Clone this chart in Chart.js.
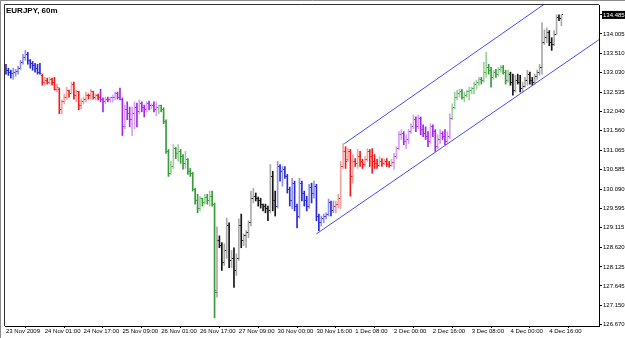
<!DOCTYPE html>
<html lang="en">
<head>
<meta charset="UTF-8">
<title>EURJPY, 60m</title>
<script src="https://cdn.jsdelivr.net/npm/chart.js"></script>
<style>
  html, body { margin: 0; padding: 0; background: #fff; }
  canvas { display: block; }
</style>
</head>
<body>
<canvas id="grafica" width="625" height="338"></canvas>
<script>
const chartTitle = 'EURJPY, 60m';

// one time label every 16 bars
const timeLabels = ['23 Nov 2009', '24 Nov 01:00', '24 Nov 17:00', '25 Nov 09:00', '26 Nov 01:00',
  '26 Nov 17:00', '27 Nov 09:00', '30 Nov 00:00', '30 Nov 16:00', '1 Dec 08:00', '2 Dec 00:00',
  '2 Dec 16:00', '3 Dec 08:00', '4 Dec 00:00', '4 Dec 16:00'];
const barsPerLabel = 16;

const priceTicks = [134.005, 133.510, 133.030, 132.535, 132.040, 131.560, 131.065, 130.585,
  130.090, 129.595, 129.115, 128.620, 128.125, 127.645, 127.150, 126.670];
const lastPrice = 134.485;

// colour of each trading day (first bar index of the day)
const dayStarts = [0, 15, 39, 63, 87, 112, 136, 160, 184, 208];
const dayColours = ['blue', 'red', 'purple', 'green', 'black', 'blue', 'red', 'purple', 'green', 'black'];

const opens = [
  133.14, 133.09, 133.04, 133.01, 133.04, 133.06, 133.14, 133.29, 133.41, 133.49,
  133.34, 133.26, 133.21, 133.14, 133.04, 132.96, 132.79, 132.84, 132.79, 132.86,
  132.79, 132.61, 132.61, 132.09, 132.29, 132.41, 132.59, 132.49, 132.74, 132.44,
  132.54, 132.19, 132.31, 132.36, 132.46, 132.44, 132.54, 132.41, 132.46, 132.39,
  132.36, 132.29, 132.36, 132.34, 132.39, 132.41, 132.49, 132.41, 132.36, 131.66,
  132.09, 131.99, 131.84, 131.99, 132.14, 132.04, 132.24, 132.14, 132.09, 132.24,
  132.19, 132.21, 132.09, 132.14, 132.19, 132.09, 131.79, 131.04, 130.49, 130.66,
  131.11, 130.99, 131.04, 130.91, 130.74, 130.84, 130.54, 130.49, 130.09, 129.79,
  129.59, 129.84, 129.74, 129.89, 129.79, 129.91, 129.71, 127.49, 128.79, 128.66,
  128.24, 128.54, 129.16, 128.29, 128.34, 128.04, 128.34, 129.16, 128.79, 128.91,
  128.99, 129.24, 129.84, 129.91, 129.86, 129.79, 129.69, 129.64, 129.59, 129.54,
  130.41, 129.79, 129.66, 130.66, 130.54, 130.59, 130.41, 130.09, 129.79, 130.24,
  129.66, 129.41, 130.24, 129.99, 129.79, 129.66, 130.14, 129.99, 130.16, 129.41,
  129.24, 129.34, 129.39, 129.44, 129.74, 129.54, 129.66, 129.71, 129.86, 130.66,
  131.04, 130.84, 131.04, 130.41, 130.79, 130.74, 130.91, 130.79, 130.71, 130.84,
  131.04, 130.91, 130.79, 130.74, 130.69, 130.79, 130.74, 130.79, 130.71, 130.69,
  130.76, 130.91, 131.11, 131.46, 131.49, 131.29, 131.34, 131.54, 131.66, 131.84,
  131.66, 131.86, 131.59, 131.49, 131.41, 131.29, 131.66, 131.54, 131.16, 131.34,
  131.49, 131.41, 131.29, 131.41, 131.86, 132.16, 132.41, 132.49, 132.54, 132.41,
  132.46, 132.54, 132.59, 132.64, 132.74, 132.79, 132.86, 132.84, 133.04, 133.16,
  133.09, 132.91, 133.04, 132.99, 133.11, 133.16, 133.04, 132.84, 132.99, 132.79,
  132.59, 132.84, 132.79, 132.64, 132.69, 132.84, 132.99, 132.84, 132.79, 132.94,
  133.04, 133.16, 133.79, 133.91, 134.04, 133.79, 133.74, 133.99, 134.41, 134.39
];
const highs = [
  133.24, 133.14, 133.09, 133.14, 133.11, 133.19, 133.34, 133.49, 133.59, 133.54,
  133.36, 133.31, 133.26, 133.24, 133.26, 132.99, 132.91, 132.89, 132.91, 132.89,
  132.91, 132.74, 132.64, 132.34, 132.49, 132.66, 132.59, 132.79, 132.79, 132.59,
  132.56, 132.36, 132.41, 132.54, 132.49, 132.61, 132.56, 132.49, 132.49, 132.61,
  132.39, 132.41, 132.41, 132.41, 132.46, 132.54, 132.54, 132.64, 132.39, 132.21,
  132.29, 132.16, 132.16, 132.29, 132.26, 132.34, 132.29, 132.21, 132.29, 132.31,
  132.24, 132.29, 132.29, 132.21, 132.21, 132.14, 131.84, 131.09, 130.79, 131.21,
  131.14, 131.21, 131.09, 130.96, 131.04, 130.86, 130.61, 130.51, 130.11, 129.96,
  129.91, 129.86, 129.96, 129.96, 130.04, 130.04, 129.74, 129.14, 128.91, 128.74,
  128.71, 129.36, 129.24, 128.54, 128.61, 128.46, 129.34, 129.46, 128.96, 129.04,
  129.29, 130.04, 130.11, 129.99, 129.89, 129.86, 129.71, 129.71, 129.66, 130.71,
  130.54, 130.04, 130.79, 130.71, 130.66, 130.66, 130.46, 130.14, 130.36, 130.29,
  129.71, 130.36, 130.29, 130.04, 129.91, 130.21, 130.24, 130.29, 130.21, 129.46,
  129.41, 129.46, 129.49, 129.84, 129.79, 129.79, 129.79, 129.96, 130.79, 131.24,
  131.16, 131.11, 131.09, 130.96, 130.86, 131.09, 131.04, 130.84, 130.91, 131.11,
  131.09, 131.11, 130.96, 130.84, 130.91, 130.86, 130.84, 130.86, 130.79, 130.84,
  130.99, 131.16, 131.54, 131.59, 131.54, 131.46, 131.59, 131.74, 131.96, 131.91,
  131.96, 131.91, 131.71, 131.66, 131.54, 131.74, 131.71, 131.59, 131.46, 131.59,
  131.54, 131.59, 131.54, 131.99, 132.24, 132.54, 132.59, 132.61, 132.61, 132.54,
  132.59, 132.66, 132.66, 132.79, 132.84, 132.91, 132.91, 133.29, 133.54, 133.24,
  133.16, 133.09, 133.11, 133.16, 133.21, 133.21, 133.09, 133.09, 133.04, 132.99,
  132.96, 132.99, 132.96, 132.79, 132.91, 133.09, 133.04, 132.91, 132.99, 133.09,
  133.24, 134.29, 134.11, 134.16, 134.09, 133.91, 134.09, 134.49, 134.49, 134.49
];
const lows = [
  132.99, 132.96, 132.89, 132.86, 132.94, 132.99, 133.11, 133.24, 133.34, 133.24,
  133.14, 133.09, 133.04, 132.99, 132.99, 132.71, 132.71, 132.74, 132.74, 132.71,
  132.59, 132.54, 131.99, 131.99, 132.24, 132.36, 132.41, 132.49, 132.36, 132.29,
  132.09, 132.11, 132.24, 132.29, 132.36, 132.36, 132.36, 132.34, 132.34, 132.29,
  132.04, 132.24, 132.29, 132.29, 132.29, 132.34, 132.36, 132.34, 131.44, 131.61,
  131.84, 131.66, 131.44, 131.61, 131.66, 131.99, 132.04, 131.91, 132.04, 132.09,
  132.11, 132.04, 131.94, 131.99, 132.04, 131.74, 130.99, 130.41, 130.46, 130.61,
  130.86, 130.79, 130.74, 130.59, 130.61, 130.46, 130.41, 130.04, 129.71, 129.49,
  129.54, 129.66, 129.71, 129.71, 129.66, 129.66, 126.84, 127.36, 128.61, 128.04,
  128.16, 128.34, 128.11, 128.11, 127.61, 127.91, 128.29, 128.61, 128.66, 128.61,
  128.86, 129.16, 129.74, 129.79, 129.66, 129.61, 129.54, 129.49, 129.29, 129.49,
  129.54, 129.41, 129.61, 130.29, 130.16, 130.36, 129.99, 129.66, 129.59, 129.54,
  129.11, 129.36, 129.79, 129.66, 129.54, 129.61, 129.74, 129.86, 129.29, 129.04,
  129.16, 129.24, 129.34, 129.41, 129.41, 129.49, 129.49, 129.61, 129.59, 130.61,
  130.61, 130.79, 129.91, 130.24, 130.66, 130.61, 130.66, 130.61, 130.66, 130.79,
  130.66, 130.49, 130.61, 130.61, 130.66, 130.66, 130.71, 130.66, 130.64, 130.66,
  130.59, 130.86, 131.09, 131.34, 131.21, 131.11, 131.24, 131.49, 131.61, 131.54,
  131.61, 131.46, 131.41, 131.34, 131.16, 131.24, 131.41, 131.04, 131.11, 131.24,
  131.34, 131.21, 131.24, 131.36, 131.84, 132.11, 132.34, 132.41, 132.36, 132.29,
  132.41, 132.34, 132.49, 132.49, 132.61, 132.71, 132.74, 132.79, 132.91, 132.99,
  132.66, 132.86, 132.91, 132.94, 133.04, 132.99, 132.74, 132.79, 132.71, 132.46,
  132.54, 132.74, 132.54, 132.54, 132.66, 132.71, 132.74, 132.71, 132.74, 132.86,
  132.96, 132.99, 133.74, 133.79, 133.71, 133.59, 133.71, 133.99, 134.34, 134.21
];
const closes = [
  133.09, 133.04, 133.01, 133.04, 133.06, 133.14, 133.29, 133.41, 133.49, 133.34,
  133.26, 133.21, 133.14, 133.04, 133.01, 132.79, 132.84, 132.79, 132.86, 132.79,
  132.61, 132.66, 132.09, 132.29, 132.41, 132.59, 132.49, 132.74, 132.44, 132.54,
  132.19, 132.31, 132.36, 132.46, 132.44, 132.54, 132.41, 132.46, 132.39, 132.36,
  132.29, 132.36, 132.34, 132.39, 132.41, 132.49, 132.41, 132.36, 131.66, 132.09,
  131.99, 131.84, 131.99, 132.14, 132.04, 132.24, 132.14, 132.09, 132.24, 132.19,
  132.21, 132.09, 132.14, 132.19, 132.09, 131.79, 131.04, 130.49, 130.66, 131.11,
  130.99, 131.04, 130.91, 130.74, 130.84, 130.54, 130.49, 130.09, 129.79, 129.59,
  129.84, 129.74, 129.89, 129.79, 129.91, 129.71, 127.54, 128.79, 128.66, 128.24,
  128.54, 129.16, 128.29, 128.34, 128.04, 128.34, 129.16, 128.79, 128.91, 128.99,
  129.24, 129.84, 129.91, 129.86, 129.79, 129.69, 129.64, 129.59, 129.54, 130.41,
  129.79, 129.66, 130.66, 130.54, 130.59, 130.41, 130.09, 129.79, 130.24, 129.66,
  129.41, 130.24, 129.99, 129.79, 129.66, 130.14, 129.99, 130.16, 129.41, 129.24,
  129.34, 129.39, 129.44, 129.74, 129.54, 129.66, 129.71, 129.86, 130.66, 131.04,
  130.79, 131.04, 130.41, 130.79, 130.74, 130.91, 130.79, 130.71, 130.84, 131.04,
  130.91, 130.79, 130.74, 130.69, 130.79, 130.74, 130.79, 130.71, 130.69, 130.76,
  130.91, 131.11, 131.46, 131.49, 131.29, 131.34, 131.54, 131.66, 131.84, 131.66,
  131.86, 131.59, 131.49, 131.41, 131.29, 131.66, 131.54, 131.16, 131.34, 131.49,
  131.41, 131.29, 131.41, 131.86, 132.16, 132.41, 132.49, 132.54, 132.41, 132.46,
  132.54, 132.59, 132.64, 132.74, 132.79, 132.86, 132.84, 133.04, 133.16, 133.09,
  132.91, 133.04, 132.99, 133.11, 133.16, 133.04, 132.84, 132.99, 132.79, 132.59,
  132.84, 132.79, 132.64, 132.69, 132.84, 132.99, 132.84, 132.79, 132.94, 133.04,
  133.16, 133.79, 133.91, 134.04, 133.79, 133.74, 133.99, 134.41, 134.39, 134.485
];

// hand-drawn channel, in bar index / price
const channelLowerX = [128, 244.5];
const channelLowerY = [128.96, 133.86];
const channelUpperX = [139.5, 244.5];
const channelUpperY = [131.235, 135.72];

const palette = {
  blue:   ['#2a2ad2', '#9292ee'],
  red:    ['#ee1c1c', '#f4a2a2'],
  purple: ['#a426ea', '#d6a0f2'],
  green:  ['#389a3c', '#9ccf9c'],
  black:  ['#161616', '#aaaaaa']
};

function dayColour(i) {
  let k = 0;
  for (let s = 0; s < dayStarts.length; s++) {
    if (i >= dayStarts[s]) k = s;
  }
  return dayColours[k];
}

// small open / close tick used as point style (left or right of the bar)
function tickImage(colour, col) {
  const c = document.createElement('canvas');
  c.width = 5;
  c.height = 1;
  const g = c.getContext('2d');
  g.fillStyle = colour;
  g.fillRect(col, 0, 1, 1);
  return c;
}
const openTick = {}, closeTick = {};
for (const name in palette) {
  openTick[name] = tickImage(palette[name][0], 1);
  closeTick[name] = tickImage(palette[name][0], 3);
}

const fontFamily = '"Liberation Sans", Arial, sans-serif';

// background, frame and title
const marco = {
  id: 'marco',
  beforeDraw(chart) {
    const c = chart.ctx;
    c.save();
    c.fillStyle = '#ffffff';
    c.fillRect(0, 0, chart.width, chart.height);
    c.restore();
  },
  afterDraw(chart) {
    const c = chart.ctx, a = chart.chartArea;
    c.save();
    c.lineWidth = 1;
    c.strokeStyle = '#8c8c8c';
    c.beginPath();
    c.moveTo(0, 0.5); c.lineTo(chart.width, 0.5);
    c.moveTo(0.5, 0); c.lineTo(0.5, chart.height);
    c.stroke();
    c.strokeStyle = '#303030';
    c.beginPath();
    c.moveTo(a.left - 0.5, a.bottom);
    c.lineTo(a.left - 0.5, a.top - 0.5);
    c.lineTo(a.right, a.top - 0.5);
    c.stroke();
    c.fillStyle = '#000';
    c.font = 'bold 8px ' + fontFamily;
    c.textBaseline = 'alphabetic';
    c.fillText(chartTitle, 6, 13);
    c.restore();
  }
};

const barColour = c => {
  const i = c.dataIndex;
  const p = palette[dayColour(i)];
  return closes[i] >= opens[i] ? p[1] : p[0];
};

new Chart(document.getElementById('grafica').getContext('2d'), {
  type: 'bar',
  data: {
    datasets: [
      {
        type: 'line',
        data: channelLowerX.map((x, k) => ({ x: x, y: channelLowerY[k] })),
        borderColor: '#4a4af6',
        borderWidth: 1,
        pointRadius: 0,
        fill: false,
        order: 0
      },
      {
        type: 'line',
        data: channelUpperX.map((x, k) => ({ x: x, y: channelUpperY[k] })),
        borderColor: '#4a4af6',
        borderWidth: 1,
        pointRadius: 0,
        fill: false,
        order: 0
      },
      {
        type: 'scatter',
        data: opens.map((o, i) => ({ x: i, y: o })),
        pointStyle: c => openTick[dayColour(c.dataIndex)],
        pointRadius: 1,
        order: 1
      },
      {
        type: 'scatter',
        data: closes.map((v, i) => ({ x: i, y: v })),
        pointStyle: c => closeTick[dayColour(c.dataIndex)],
        pointRadius: 1,
        order: 1
      },
      {
        type: 'bar',
        data: highs.map((h, i) => ({ x: i, y: [lows[i], h] })),
        backgroundColor: barColour,
        borderWidth: 0,
        barThickness: 1,
        order: 2
      }
    ]
  },
  options: {
    responsive: false,
    animation: false,
    events: [],
    layout: { padding: { left: 2, top: 2, right: 0, bottom: 0 } },
    plugins: { legend: { display: false }, tooltip: { enabled: false } },
    scales: {
      x: {
        type: 'linear',
        min: -0.4,
        max: 244.5,
        offset: false,
        afterBuildTicks: s => { s.ticks = timeLabels.map((t, k) => ({ value: k * barsPerLabel })); },
        afterFit: s => { s.height = 12; },
        grid: { display: true, drawOnChartArea: false, drawTicks: true, tickLength: 2, color: '#000' },
        border: { display: true, color: '#000' },
        ticks: {
          autoSkip: false, maxRotation: 0, minRotation: 0, align: 'start', padding: 0,
          color: '#000',
          font: { family: fontFamily, size: 6, lineHeight: 1 },
          callback: (v, i) => timeLabels[i]
        }
      },
      y: {
        type: 'linear',
        position: 'right',
        min: 126.635,
        max: 134.735,
        bounds: 'data',
        afterBuildTicks: s => { s.ticks = priceTicks.concat([lastPrice]).map(v => ({ value: v })); },
        afterFit: s => { s.width = 26; },
        grid: { display: true, drawOnChartArea: false, drawTicks: true, tickLength: 3, color: '#000' },
        border: { display: true, color: '#000' },
        ticks: {
          padding: 1,
          color: c => (c.tick && c.tick.value === lastPrice) ? '#fff' : '#000',
          showLabelBackdrop: c => !!(c.tick && c.tick.value === lastPrice),
          backdropColor: '#000',
          backdropPadding: { top: 1, bottom: 1, left: 1, right: 3 },
          font: { family: fontFamily, size: 6, lineHeight: 1 },
          callback: v => v.toFixed(3)
        }
      }
    }
  },
  plugins: [marco]
});
</script>
</body>
</html>
